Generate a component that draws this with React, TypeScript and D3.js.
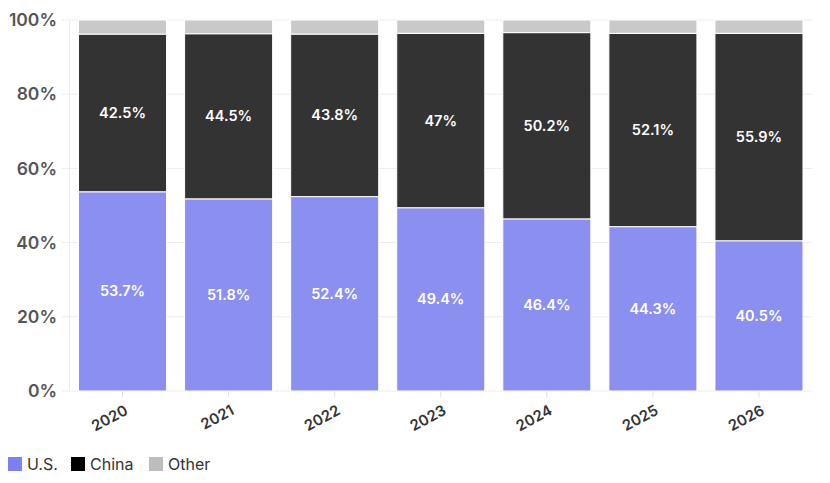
import React from "react";
import * as d3 from "d3";

const years = ["2020", "2021", "2022", "2023", "2024", "2025", "2026"];
const usValues = [53.7, 51.8, 52.4, 49.4, 46.4, 44.3, 40.5];
const chinaValues = [42.5, 44.5, 43.8, 47, 50.2, 52.1, 55.9];
const otherValues = [3.8, 3.7, 3.8, 3.6, 3.4, 3.6, 3.6];
const yTicks = [0, 20, 40, 60, 80, 100];
const seriesNames = ["U.S.", "China", "Other"];

const W = 830;
const H = 483;
const FONT = "Inter, 'Open Sans', sans-serif";

export default function App() {
  const x = d3.scaleBand<string>().domain(years).range([69.5, 812]).paddingInner(0.17).paddingOuter(0.085);
  const y = d3.scaleLinear().domain([0, 100]).range([391, 20]);

  const rows = years.map((yr, i) => ({ year: yr, "U.S.": usValues[i], China: chinaValues[i], Other: otherValues[i] }));
  const stack = d3.stack<any>().keys(seriesNames)(rows);
  const fills: Record<string, string> = { "U.S.": "#8b8ff0", China: "#333333", Other: "#c9c9c9" };
  const legendFills: Record<string, string> = { "U.S.": "#7e7ff0", China: "#000000", Other: "#bdbdbd" };
  const legendX = [8, 71, 149];

  return (
    <svg width={W} height={H} style={{ position: "absolute", left: 0, top: 0, fontFamily: FONT }}>
      <rect width={W} height={H} fill="#fff" />
      {yTicks.map((t) => (
        <g key={t}>
          <line x1={62} x2={812} y1={y(t)} y2={y(t)} stroke="#ececec" strokeWidth={1} />
          <text x={57} y={y(t)} dy="0.35em" textAnchor="end" fontSize={17.5} fontWeight={600} fill="#555">
            {t}%
          </text>
        </g>
      ))}
      <line x1={69.5} x2={69.5} y1={20} y2={391} stroke="#ececec" />
      {years.map((yr) => (
        <line key={yr} x1={x(yr)! + x.bandwidth() / 2} x2={x(yr)! + x.bandwidth() / 2} y1={391} y2={397} stroke="#e0e0e0" />
      ))}
      {stack.map((s) => (
        <g key={s.key}>
          {s.map((d, i) => (
            <rect
              key={i}
              x={x(years[i])}
              width={x.bandwidth()}
              y={y(d[1])}
              height={y(d[0]) - y(d[1])}
              fill={fills[s.key]}
              stroke="#fff"
              strokeWidth={1}
            />
          ))}
        </g>
      ))}
      {stack.slice(0, 2).map((s) =>
        s.map((d, i) => (
          <text
            key={s.key + i}
            x={x(years[i])! + x.bandwidth() / 2}
            y={y((d[0] + d[1]) / 2)}
            dy="0.35em"
            textAnchor="middle"
            fontSize={14.5}
            fontWeight={600}
            fill="#fff"
          >
            {(s.key === "U.S." ? usValues[i] : chinaValues[i]) + "%"}
          </text>
        ))
      )}
      {years.map((yr) => (
        <text
          key={yr}
          transform={`translate(${x(yr)! + x.bandwidth() / 2 + 4},${409}) rotate(-28)`}
          textAnchor="end"
          dy="0.35em"
          fontSize={15}
          fontWeight={600}
          fill="#333"
        >
          {yr}
        </text>
      ))}
      {seriesNames.map((n, i) => (
        <g key={n}>
          <rect x={legendX[i]} y={457} width={14} height={14} fill={legendFills[n]} />
          <text x={legendX[i] + 19} y={464} dy="0.35em" fontSize={16} fill="#333">
            {n}
          </text>
        </g>
      ))}
    </svg>
  );
}
